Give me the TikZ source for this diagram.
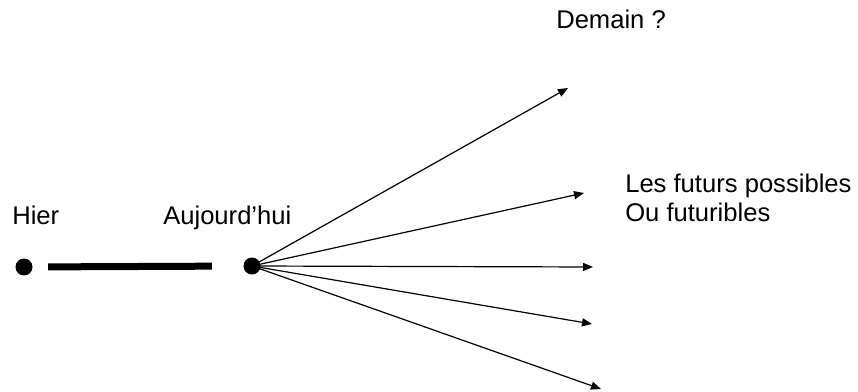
\documentclass[tikz,border=0pt]{standalone}
\usepackage{fontspec}
\setmainfont{Liberation Sans}
\usetikzlibrary{arrows.meta}
\begin{document}
\begin{tikzpicture}[x=0.75pt,y=-0.75pt,
  dotnode/.style={circle,fill=black,inner sep=0pt,minimum size=12.75pt},
  lbl/.style={anchor=base west,inner sep=0pt,font=\fontsize{19.2pt}{22pt}\selectfont},
  fut/.style={line width=0.9pt,-{Triangle[length=7.5pt,width=6pt]}}]
\useasboundingbox (0,0) rectangle (858,392);
\node[dotnode] (hier) at (24,267) {};
\node[dotnode] (today) at (252,266) {};
\draw[line width=5.25pt,shorten <=11.6pt,shorten >=23.6pt] (hier) -- (today);
\node[lbl] (thier) at (12,225) {Hier};
\node[lbl] (ttoday) at (163,225) {Aujourd'hui};
\node[lbl] (tdemain) at (556,29) {Demain ?};
\node[lbl] (tles) at (625,193) {Les futurs possibles};
\node[lbl] (tou) at (625,222) {Ou futuribles};
\coordinate (f1) at (568,88);
\coordinate (f2) at (584,193);
\coordinate (f3) at (593,267);
\coordinate (f4) at (592,324);
\coordinate (f5) at (601,389);
\foreach \f in {f1,f2,f3,f4,f5} \draw[fut] (today.center) -- (\f);
\end{tikzpicture}
\end{document}
